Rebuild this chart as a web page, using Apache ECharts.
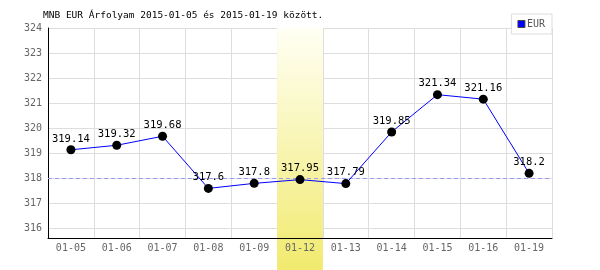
<!DOCTYPE html>
<html><head><meta charset="utf-8">
<script src="https://cdn.jsdelivr.net/npm/echarts@6/dist/echarts.min.js"></script>
<style>html,body{margin:0;padding:0;background:#fff}#c{width:600px;height:270px}</style>
</head><body><div id="c"></div>
<script>
const titleText = 'MNB EUR Árfolyam 2015-01-05 és 2015-01-19 között.';
const seriesName = 'EUR';
const categories = ['01-05','01-06','01-07','01-08','01-09','01-12','01-13','01-14','01-15','01-16','01-19'];
const values = [319.14, 319.32, 319.68, 317.6, 317.8, 317.95, 317.79, 319.85, 321.34, 321.16, 318.2];
const highlightCategory = ['01-12'];
const referenceLevel = 318;
const yMin = 315.62, yMax = 324;

const FONT = 'DejaVu Sans Mono';
const chart = echarts.init(document.getElementById('c'), null, {renderer:'canvas'});
chart.setOption({
  animation: false,
  backgroundColor: '#fff',
  title: {text: titleText, left: 38, top: 6, textStyle: {fontFamily: FONT, fontSize: 9.5, fontWeight: 'normal', color: '#000'}},
  legend: {
    data: [{name: seriesName, itemStyle: {color: '#0000ff', borderColor: '#444', borderWidth: 1}}],
    right: 48, top: 14, orient: 'vertical',
    backgroundColor: '#fff', borderColor: '#ddd', borderWidth: 1, padding: [5, 7, 5, 6],
    itemWidth: 7, itemHeight: 7, itemGap: 4, icon: 'rect',
    textStyle: {fontFamily: FONT, fontSize: 10, color: '#555', padding: [0,0,0,-3]},
    z: 10
  },
  grid: {left: 48, right: 48, top: 28, bottom: 32, containLabel: false},
  xAxis: {
    type: 'category', data: categories, boundaryGap: true,
    axisLine: {lineStyle: {color: '#000', width: 1}},
    axisTick: {show: false},
    axisLabel: {fontFamily: FONT, fontSize: 10, color: '#666', margin: 5},
    splitLine: {show: true, lineStyle: {color: '#ddd'}}
  },
  yAxis: {
    type: 'value', min: yMin, max: yMax, minInterval: 1, maxInterval: 1,
    axisLine: {show: true, lineStyle: {color: '#000', width: 1}},
    axisTick: {show: false},
    axisLabel: {fontFamily: FONT, fontSize: 10, color: '#666', margin: 6,
      formatter: v => (Math.abs(v - Math.round(v)) < 1e-6 ? String(Math.round(v)) : '')},
    splitLine: {show: true, lineStyle: {color: '#ddd'}}
  },
  series: [
    {
      type: 'custom', name: 'hl', silent: true, z: 0, clip: false,
      data: highlightCategory.map(c => [c]),
      encode: {x: 0},
      renderItem: function (params, api) {
        const cs = params.coordSys;
        const cx = api.coord([api.value(0), yMax])[0];
        const w = api.size([1, 0])[0];
        return {
          type: 'rect',
          shape: {x: cx - w / 2, y: cs.y, width: w, height: api.getHeight() - cs.y},
          style: {fill: {type: 'linear', x: 0, y: 0, x2: 0, y2: 1, colorStops: [
            {offset: 0, color: '#fffff4'}, {offset: 1, color: '#f1ea6e'}]}}
        };
      }
    },
    {
      type: 'line', name: seriesName, data: values, z: 5,
      symbol: 'circle', symbolSize: 9,
      itemStyle: {color: '#000'},
      lineStyle: {color: '#0000ff', width: 1},
      label: {show: true, position: 'top', distance: 1, fontFamily: FONT, fontSize: 10.5, color: '#000'},
      markLine: {
        silent: true, symbol: 'none', label: {show: false},
        lineStyle: {color: '#9a9aee', type: [4, 3], width: 1},
        data: [{yAxis: referenceLevel}]
      }
    }
  ]
});
</script></body></html>
